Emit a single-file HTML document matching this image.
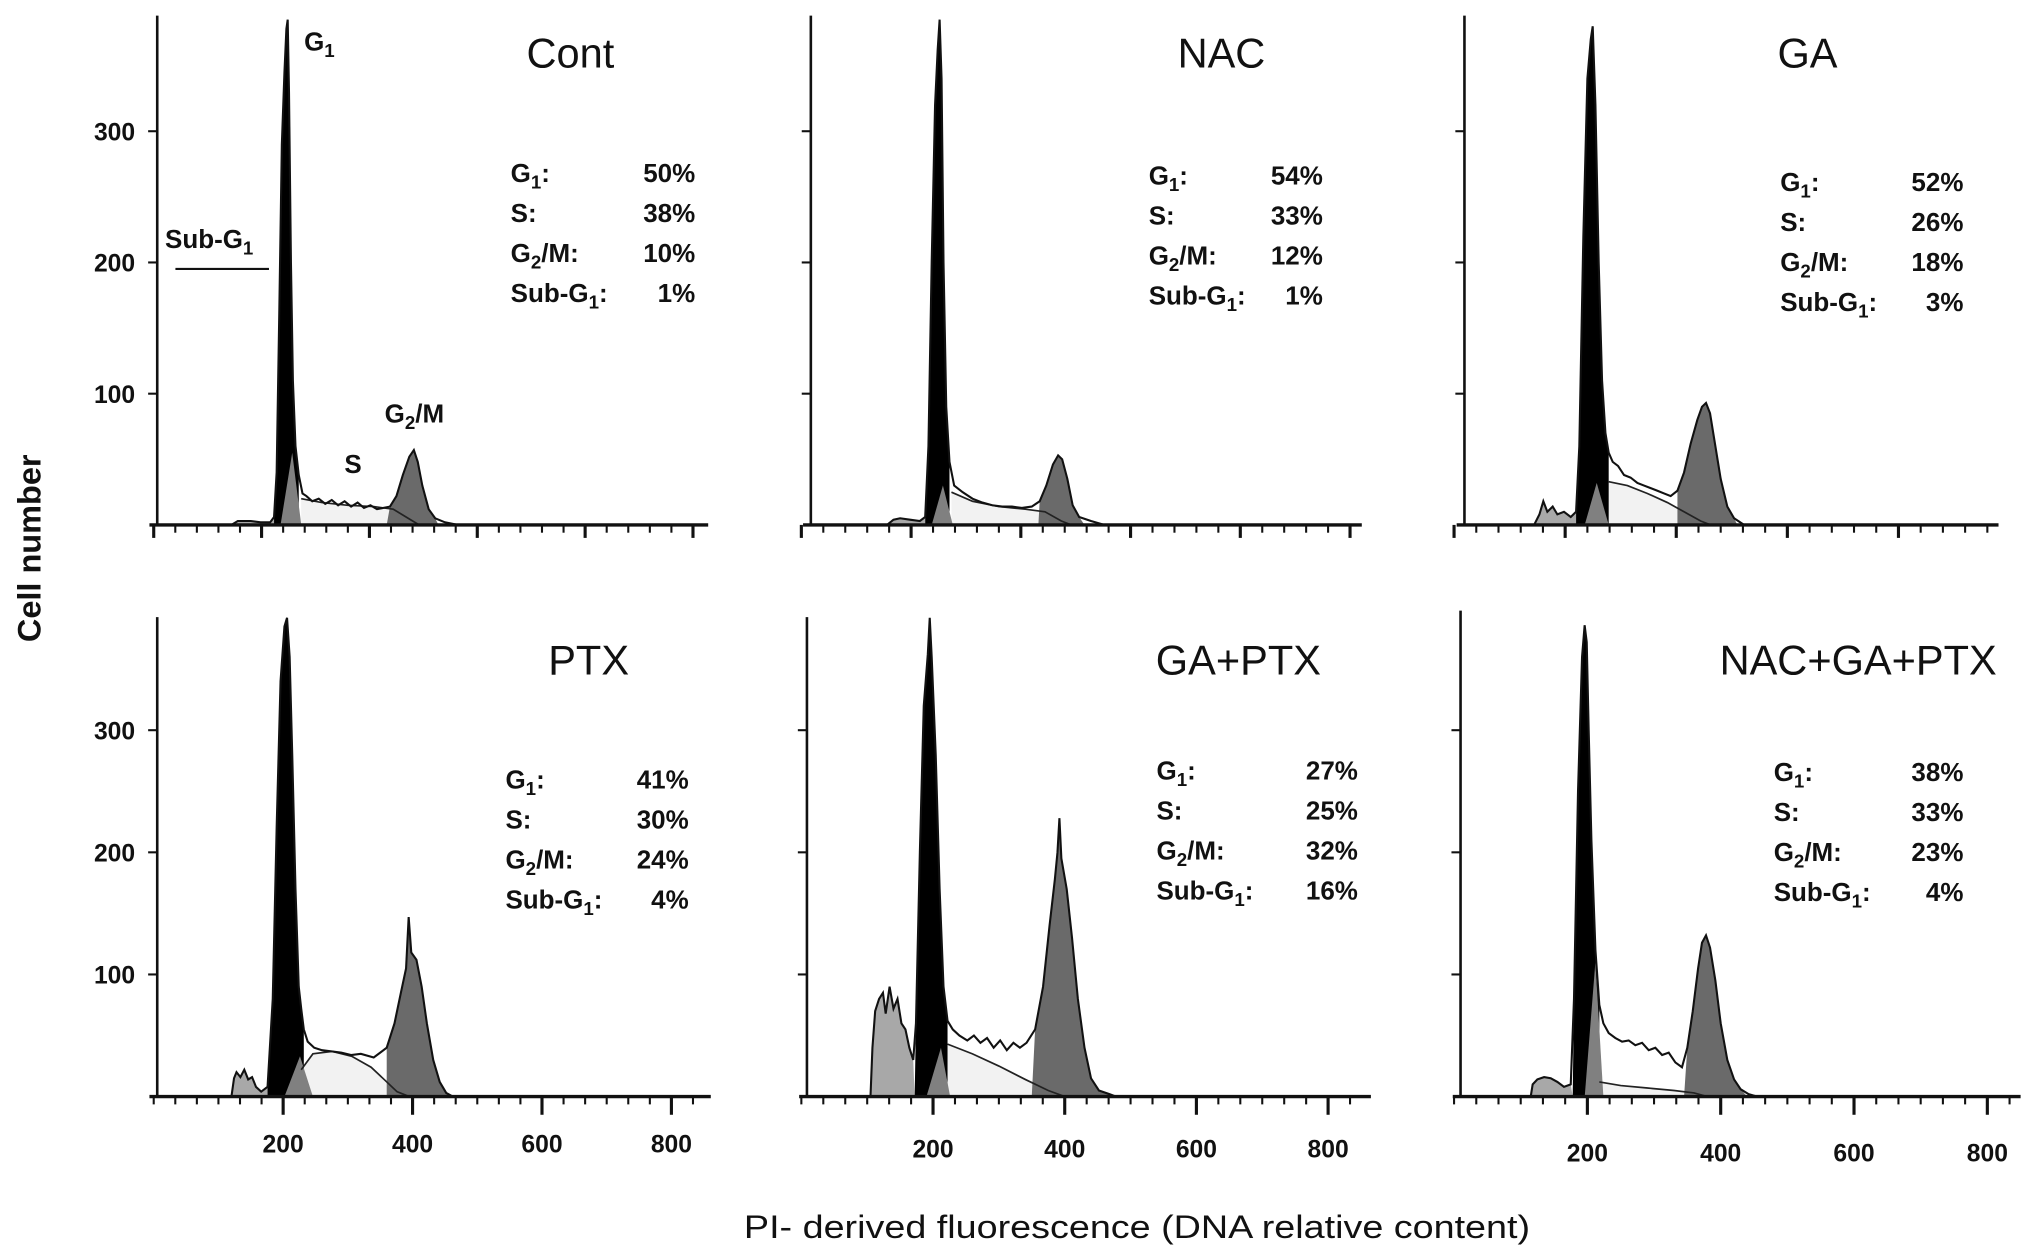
<!DOCTYPE html>
<html><head><meta charset="utf-8">
<style>
html,body{margin:0;padding:0;background:#fff;}
svg{display:block;}
text{font-family:"Liberation Sans",sans-serif;fill:#111;}
.st{font-weight:bold;font-size:20px;}
.tk{font-weight:bold;font-size:19px;}
.ttl{font-size:32px;}
</style></head>
<body>
<svg id="fig" xmlns="http://www.w3.org/2000/svg" width="2031" height="1259" viewBox="0 0 1563 969" preserveAspectRatio="none">
<rect x="0" y="0" width="1563" height="969" fill="#fff"/>
<text x="0" y="0" transform="translate(31,422) rotate(-90)" text-anchor="middle" style="font-weight:bold;font-size:25px">Cell number</text>
<text x="875" y="953" text-anchor="middle" style="font-size:25px" textLength="605" lengthAdjust="spacingAndGlyphs">PI- derived fluorescence (DNA relative content)</text>
</svg>
<script>
// ---- data ----
const panelNames = ["Cont","NAC","GA","PTX","GA+PTX","NAC+GA+PTX"];
const yTicks = [100,200,300];
const xTicks = [200,400,600,800];
const statLabels = ["G1","S","G2/M","Sub-G1"];
const statCont = ["50%","38%","10%","1%"];
const statNAC = ["54%","33%","12%","1%"];
const statGA = ["52%","26%","18%","3%"];
const statPTX = ["41%","30%","24%","4%"];
const statGAPTX = ["27%","25%","32%","16%"];
const statNGP = ["38%","33%","23%","4%"];
// histogram outlines: [channel, count]
const histCont = [[120,0],[130,3],[150,3],[165,2],[180,2],[186,6],[190,40],[194,160],[198,290],[202,345],[205,378],[207,385],[209,330],[212,200],[215,110],[219,60],[224,38],[230,24],[236,22],[245,18],[255,20],[265,16],[275,19],[285,15],[295,18],[305,14],[315,17],[325,13],[335,15],[345,12],[355,13],[365,14],[375,22],[385,38],[395,52],[402,57],[408,48],[415,30],[425,12],[435,5],[450,2],[470,0]];
const histNAC = [[130,0],[140,4],[150,5],[165,4],[180,3],[188,6],[193,60],[198,200],[203,320],[207,362],[210,385],[213,340],[216,200],[220,90],[225,48],[232,30],[245,25],[260,20],[275,17],[290,15],[305,14],[320,14],[335,13],[350,14],[362,18],[372,30],[382,46],[390,53],[396,50],[404,35],[412,15],[422,6],[440,3],[460,0]];
const histGA = [[120,0],[128,8],[134,18],[140,10],[148,14],[155,8],[165,10],[175,6],[183,10],[188,60],[194,220],[200,340],[205,370],[208,380],[212,320],[217,200],[222,110],[227,70],[232,55],[238,48],[246,45],[255,38],[265,36],[275,32],[285,30],[295,28],[305,26],[315,24],[325,22],[335,26],[345,40],[355,62],[365,80],[372,90],[378,93],[384,85],[392,60],[400,35],[410,14],[420,5],[435,0]];
const histPTX = [[120,0],[124,15],[128,20],[134,16],[140,22],[146,14],[152,16],[158,8],[166,4],[176,8],[184,80],[190,220],[196,340],[202,385],[206,392],[210,360],[214,280],[219,170],[224,90],[228,72],[232,55],[238,45],[248,40],[260,38],[275,37],[290,36],[305,34],[320,35],[340,32],[360,40],[372,60],[382,85],[390,105],[394,147],[398,118],[406,112],[414,90],[422,60],[432,30],[442,12],[452,3],[462,0]];
const histGAPTX = [[105,0],[108,40],[112,70],[118,80],[124,85],[128,68],[134,90],[140,72],[146,80],[152,60],[158,55],[164,40],[170,30],[174,60],[180,200],[186,320],[192,362],[195,392],[198,360],[204,280],[210,170],[216,90],[222,62],[230,55],[240,50],[252,46],[262,50],[272,44],[282,48],[292,40],[302,46],[312,38],[322,44],[332,40],[342,44],[355,55],[367,90],[377,140],[385,178],[389,200],[392,228],[395,195],[403,170],[411,130],[420,80],[430,40],[440,15],[452,5],[468,2],[478,0]];
const histNGP = [[115,0],[118,10],[125,14],[135,16],[145,15],[155,12],[165,8],[175,10],[180,80],[186,250],[192,360],[196,386],[199,372],[202,300],[206,210],[212,120],[218,75],[224,60],[232,52],[242,48],[252,45],[262,46],[272,42],[282,44],[292,38],[302,40],[312,34],[322,36],[332,28],[342,24],[350,40],[358,70],[366,105],[372,126],[378,132],[384,122],[392,95],[400,60],[410,30],[420,14],[430,6],[442,2],[455,0]];
// region bounds [subL, subR, g1L, g1R, g2L, g2R]
const regCont = [120,186,186,224,360,440];
const regNAC = [130,188,188,225,360,430];
const regGA = [120,183,183,232,335,425];
const regPTX = [120,176,176,232,360,462];
const regGAPTX = [105,172,172,222,350,478];
const regNGP = [115,178,178,218,345,440];
// G1 fit component [left, peak, right, height]
const g1fitCont = [196,214,228,55];
const g1fitNAC = [198,215,230,30];
const g1fitGA = [196,214,232,32];
const g1fitPTX = [202,226,246,33];
const g1fitGAPTX = [190,212,226,40];
const g1fitNGP = [196,212,224,110];
// S-phase fit curves [channel, count]
const sCont = [[228,20],[260,17],[300,15],[340,14],[370,12],[390,6],[410,0]];
const sNAC = [[228,25],[260,18],[300,14],[340,12],[370,10],[395,3],[410,0]];
const sGA = [[232,33],[260,30],[290,24],[320,17],[345,10],[370,3],[385,0]];
const sPTX = [[228,22],[246,35],[276,37],[306,33],[336,24],[356,14],[376,4],[395,0]];
const sGAPTX = [[222,43],[260,35],[300,25],[340,14],[375,5],[400,0]];
const sNGP = [[218,12],[250,9],[290,7],[330,5],[360,3],[380,0]];
// ---- layout ----
const histArr=[histCont,histNAC,histGA,histPTX,histGAPTX,histNGP];
const regArr=[regCont,regNAC,regGA,regPTX,regGAPTX,regNGP];
const g1Arr=[g1fitCont,g1fitNAC,g1fitGA,g1fitPTX,g1fitGAPTX,g1fitNGP];
const sArr=[sCont,sNAC,sGA,sPTX,sGAPTX,sNGP];
const statArr=[statCont,statNAC,statGA,statPTX,statGAPTX,statNGP];
const P=[
 {ox:118.3,k:0.498,axX:121,base:404,ky:1.01,top:12,xEnd:545,titleX:439,titleY:52,sx:393,sr:535,sy:140,yl:true,xl:false},
 {ox:616.7,k:0.5067,axX:624,base:404,ky:1.01,top:12,xEnd:1048,titleX:940,titleY:52,sx:884,sr:1018,sy:142,yl:false,xl:false},
 {ox:1119,k:0.513,axX:1127,base:404,ky:1.01,top:12,xEnd:1538,titleX:1391,titleY:52,sx:1370,sr:1511,sy:147,yl:false,xl:false},
 {ox:118.3,k:0.498,axX:121,base:844,ky:0.94,top:475,xEnd:547,titleX:453,titleY:519,sx:389,sr:530,sy:607,yl:true,xl:true,xly:887},
 {ox:616.7,k:0.5067,axX:621,base:844,ky:0.94,top:475,xEnd:1055,titleX:953,titleY:519,sx:890,sr:1045,sy:600,yl:false,xl:true,xly:891},
 {ox:1119,k:0.513,axX:1124,base:844,ky:0.94,top:470,xEnd:1555,titleX:1430,titleY:519,sx:1365,sr:1511,sy:601,yl:false,xl:true,xly:894}
];
const NS="http://www.w3.org/2000/svg";
const svg=document.getElementById('fig');
function mk(tag,attrs,parent){const e=document.createElementNS(NS,tag);for(const a in attrs)e.setAttribute(a,attrs[a]);(parent||svg).appendChild(e);return e;}
function subText(parent,x,y,label,cls,anchor){
  const t=mk('text',{x:x,y:y,class:cls,'text-anchor':anchor||'start'},parent);
  const m=label.match(/^(.*?G)(\d)(.*)$/);
  if(m){
    t.appendChild(document.createTextNode(m[1]));
    const s=mk('tspan',{dy:5,'font-size':'0.72em'},t);s.textContent=m[2];
    const r=mk('tspan',{dy:-5},t);r.textContent=m[3];
  } else t.textContent=label;
  return t;
}
P.forEach((p,i)=>{
  const X=c=>p.ox+c*p.k, Y=v=>p.base-v*p.ky;
  const g=mk('g',{});
  
  
  const h=histArr[i], r=regArr[i];
  const part=(l,rr)=>{const pts=h.filter(q=>q[0]>=l&&q[0]<=rr);return [[l,0]].concat(pts,[[rr,0]]).map(q=>X(q[0]).toFixed(1)+','+Y(q[1]).toFixed(1)).join(' ');};
  const sub=mk('polygon',{points:part(r[0],r[1]),fill:'#a8a8a8',stroke:'none'},g);
  
  
  const s=sArr[i];
  const sp=s.map(q=>X(q[0]).toFixed(1)+','+Y(q[1]).toFixed(1));
  const sfill=mk('polygon',{points:[X(s[0][0]).toFixed(1)+','+Y(0)].concat(sp).join(' '),fill:'#f2f2f2',stroke:'none'},g);
  
  
  const g2=mk('polygon',{points:part(r[4],r[5]),fill:'#6a6a6a',stroke:'none'},g);
  
  
  const g1=mk('polygon',{points:part(r[2],r[3]),fill:'#000',stroke:'none'},g);
  
  
  const f=g1Arr[i];
  const g1f=mk('polygon',{points:[X(f[0])+','+Y(0),X(f[1])+','+Y(f[3]),X(f[2])+','+Y(0)].join(' '),fill:'#808080',stroke:'none'},g);
  
  
  const sl=mk('polyline',{points:sp.join(' '),fill:'none',stroke:'#222','stroke-width':1.3},g);
  
  
  const ol=mk('polyline',{points:h.map(q=>X(q[0]).toFixed(1)+','+Y(q[1]).toFixed(1)).join(' '),fill:'none',stroke:'#111','stroke-width':1.6},g);
  
  
  const ya=mk('line',{x1:p.axX,y1:p.top,x2:p.axX,y2:p.base,stroke:'#111','stroke-width':2},g);
  
  
  const xa=mk('line',{x1:p.axX-6,y1:p.base,x2:p.xEnd,y2:p.base,stroke:'#111','stroke-width':2.6},g);
  
  
  for(let c=0;X(c)<=p.xEnd;c+=200/6){
    const n=Math.round(c/(200/6));
    const major=p.xl?(n%6===0&&n>0):(n%5===0);
    mk('line',{x1:X(c),y1:p.base,x2:X(c),y2:p.base+(major?(p.xl?14:10):6),stroke:'#111','stroke-width':major?2.4:1.6},g);
  }
  yTicks.forEach(v=>{
    mk('line',{x1:p.axX-7,y1:Y(v),x2:p.axX,y2:Y(v),stroke:'#111','stroke-width':1.6},g);
    if(p.yl){const t=mk('text',{x:p.axX-17,y:Y(v)+7,class:'tk','text-anchor':'end'},g);t.textContent=v;
      
      }
  });
  if(p.xl) xTicks.forEach(v=>{const t=mk('text',{x:X(v),y:p.xly,class:'tk','text-anchor':'middle'},g);t.textContent=v;
      
      });
  const tt=mk('text',{x:p.titleX,y:p.titleY,class:'ttl','text-anchor':'middle'},g);
  tt.textContent=panelNames[i];
  
  
  const st=statArr[i];
  statLabels.forEach((lab,j)=>{
    const y=p.sy+j*30.8;
    const a=subText(g,p.sx,y,lab+':','st');
    
    
    const b=mk('text',{x:p.sr,y:y,class:'st','text-anchor':'end'},g);b.textContent=st[j];
    
    
  });
});
const ann=mk('g',{});


subText(ann,234,39,'G1','st');
subText(ann,127,191,'Sub-G1','st');
mk('line',{x1:135,y1:207,x2:207,y2:207,stroke:'#111','stroke-width':1.6},ann);
const sT=mk('text',{x:265,y:364,class:'st'},ann);sT.textContent='S';
subText(ann,296,325,'G2/M','st');
</script>
</body></html>
